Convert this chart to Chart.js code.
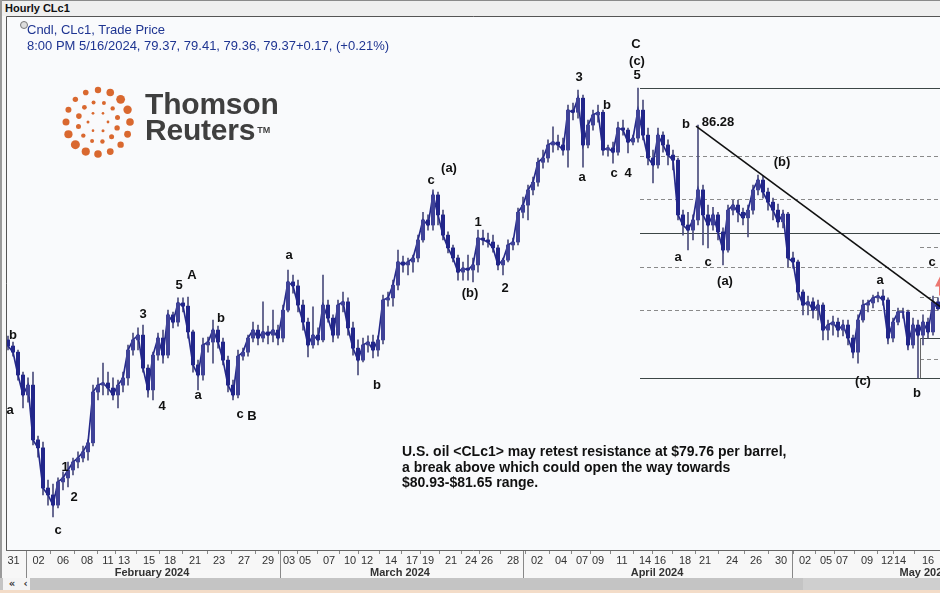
<!DOCTYPE html>
<html>
<head>
<meta charset="utf-8">
<title>Hourly CLc1</title>
<script src="https://cdn.jsdelivr.net/npm/chart.js@4.4.1/dist/chart.umd.min.js"></script>
<style>
  body { margin: 0; background: #f7f7f7; }
  #wrap { position: relative; width: 940px; height: 593px; overflow: hidden; background: #f7f7f7; }
  #chart { position: absolute; left: 0; top: 0; }
  #header { position: absolute; left: 0; top: 0; width: 940px; height: 16px; background: #efefef;
            border-top: 1px solid #8a8a8a; box-sizing: border-box; font: bold 11px "Liberation Sans", Arial, sans-serif;
            line-height: 15px; padding-left: 5px; color: #111; }
  #edge { position: absolute; left: 0; top: 0; width: 2px; height: 593px; background: #9a9a9a; }
  #legend { position: absolute; left: 27px; top: 22px; font: 13px "Liberation Sans", Arial, sans-serif;
            line-height: 16px; color: #1f3592; }
  #legend .ico { position: absolute; left: -7px; top: -1px; width: 6px; height: 6px; border: 1px solid #777;
                 border-radius: 50%; background: #ddd; }
  #logo { position: absolute; left: 145px; top: 91px; font: bold 30px "Liberation Sans", Arial, sans-serif;
          line-height: 26px; color: #3f3f3f; letter-spacing: -0.2px; }
  #logo sup { font-size: 9px; letter-spacing: 0; vertical-align: 7px; margin-left: 2px; }
  #note { position: absolute; left: 402px; top: 444px; font: bold 14px "Liberation Sans", Arial, sans-serif;
          line-height: 15.5px; color: #111; }
  #scroll { position: absolute; left: 0; top: 578px; width: 940px; height: 12px; background: #c4c4c4; }
  #scroll .btn { position: absolute; top: 0; height: 12px; background: #f4f4f4; font: bold 10px "DejaVu Sans", sans-serif;
                 line-height: 12px; text-align: center; color: #333; }
  #scroll .light { position: absolute; left: 803px; top: 0; width: 137px; height: 12px; background: #cfcfcf; }
  #peach { position: absolute; left: 0; top: 590px; width: 940px; height: 3px; background: #f3dcc8; }
</style>
</head>
<body>
<div id="wrap">
  <canvas id="chart" width="940" height="593"></canvas>
  <div id="header">Hourly CLc1</div>
  <div id="edge"></div>
  <div id="legend"><span class="ico"></span>Cndl, CLc1, Trade Price<br>8:00 PM 5/16/2024, 79.37, 79.41, 79.36, 79.37+0.17, (+0.21%)</div>
  <div id="logo">Thomson<br>Reuters<sup>TM</sup></div>
  <div id="note">U.S. oil &lt;CLc1&gt; may retest resistance at $79.76 per barrel,<br>a break above which could open the way towards<br>$80.93-$81.65 range.</div>
  <div id="scroll"><div class="light"></div><div class="btn" style="left:3px;width:18px">&laquo;</div><div class="btn" style="left:21px;width:9px">&lsaquo;</div></div>
  <div id="peach"></div>
</div>
<script>
// candles [open, high, low, close], one per few trading hours
const janFebCandles = [
  [78.20,78.34,77.82,77.97],[77.97,78.12,77.59,77.74],[77.74,77.82,76.69,76.88],[76.88,76.99,75.64,76.13],
  [76.13,76.77,75.86,76.50],[76.50,76.99,74.25,74.44],[74.44,74.58,73.79,74.14],[74.14,74.36,72.37,72.63],
  [72.63,72.93,71.99,72.37],[72.37,72.78,71.54,71.99],[71.99,73.01,71.88,72.86],[72.86,73.24,72.56,73.01],
  [73.01,73.61,72.67,73.31],[73.31,73.76,73.12,73.61],[73.61,73.99,73.39,73.76],[73.76,74.21,73.61,73.99],
  [73.99,74.44,73.68,74.33],[74.33,76.50,74.21,76.24],[76.24,76.77,75.94,76.50],[76.50,77.33,76.13,76.58],
  [76.58,76.99,76.13,76.39],[76.39,76.77,75.94,76.13],[76.13,76.69,75.64,76.50],[76.50,76.99,76.24,76.77],
  [76.77,78.01,76.50,77.82],[77.82,78.46,77.63,78.20],[78.20,78.65,77.82,78.38],[78.38,78.76,76.99,77.14],
  [77.14,77.26,76.05,76.32],[76.32,77.74,75.94,77.63],[77.63,78.46,77.44,78.27],[78.27,78.57,77.33,77.63],
  [77.63,79.32,77.52,79.14],[79.14,79.25,78.65,78.87],[78.87,79.78,78.72,79.59],[79.59,79.78,79.25,79.47],
  [79.47,79.81,78.27,78.50],[78.50,78.57,76.99,77.26],[77.26,77.44,76.32,76.88],[76.88,78.27,76.69,78.01],
  [78.01,78.31,77.74,78.12],[78.12,78.95,77.33,78.57],[78.57,78.72,77.89,78.12],[78.12,78.27,77.26,77.44],
  [77.44,77.59,76.24,76.50],[76.50,76.69,75.94,76.13],[76.13,77.82,76.02,77.59],[77.59,77.89,77.44,77.74],
  [77.74,78.38,77.59,78.27],[78.27,78.87,78.12,78.57],[78.57,78.76,78.01,78.27],[78.27,79.63,78.12,78.50],
  [78.50,78.72,78.05,78.38],[78.38,79.32,78.12,78.57],[78.57,78.76,78.01,78.27]
];
const marCandles = [
  [78.27,79.51,78.12,79.32],[79.32,80.83,79.25,80.38],[80.38,80.64,79.96,80.23],[80.23,80.45,79.25,79.51],
  [79.51,79.70,78.57,78.87],[78.87,79.02,77.56,78.01],[78.01,79.44,77.89,78.38],[78.38,78.65,78.01,78.20],
  [78.20,80.64,78.12,79.51],[79.51,79.70,78.87,79.02],[79.02,79.14,78.12,78.38],[78.38,79.70,78.27,79.51],
  [79.51,80.00,79.25,79.63],[79.63,79.78,78.38,78.65],[78.65,78.87,77.63,77.89],[77.89,78.20,76.88,77.44],
  [77.44,78.27,77.37,78.01],[78.01,78.35,77.74,78.12],[78.12,78.38,77.52,77.82],[77.82,78.35,77.59,78.20],
  [78.20,79.89,78.05,79.70],[79.70,80.00,79.47,79.78],[79.78,80.45,79.47,80.26],[80.26,81.58,80.08,81.13],
  [81.13,81.35,80.75,81.02],[81.02,81.28,80.64,81.13],[81.13,81.39,80.75,81.28],[81.28,82.14,81.13,81.96],
  [81.96,83.00,81.88,82.71],[82.71,82.90,82.33,82.52],[82.52,83.84,82.33,83.65],[83.65,83.76,82.52,82.90],
  [82.90,83.08,81.96,82.14],[82.14,82.26,81.47,81.66],[81.66,81.77,81.13,81.28],[81.28,81.39,80.45,80.75],
  [80.75,81.13,80.45,80.90],[80.90,81.39,80.45,80.83],[80.83,81.28,80.38,81.02],[81.02,82.33,80.75,82.03],
  [82.03,82.33,81.77,81.96],[81.96,82.22,81.69,81.88],[81.88,82.14,81.50,81.66],[81.66,81.77,80.83,81.02],
  [81.02,81.28,80.64,81.20],[81.20,81.96,81.13,81.77],[81.77,82.03,81.58,81.88],[81.88,83.16,81.77,83.00]
];
const aprCandles = [
  [83.00,83.57,82.79,83.27],[83.27,84.02,82.71,83.84],[83.84,84.32,83.65,84.13],[84.13,85.04,83.98,84.88],
  [84.88,85.34,84.66,85.04],[85.04,85.72,84.88,85.53],[85.53,86.21,85.26,85.64],[85.64,85.90,85.34,85.53],
  [85.53,85.79,85.15,85.34],[85.34,87.03,84.70,86.84],[86.84,87.11,86.47,86.76],[86.76,87.59,86.54,87.29],
  [87.29,87.41,84.70,85.53],[85.53,86.47,85.42,86.28],[86.28,86.84,86.09,86.66],[86.66,87.03,86.39,86.76],
  [86.76,86.84,85.15,85.34],[85.34,85.53,85.11,85.42],[85.42,85.64,84.85,85.26],[85.26,86.39,85.15,86.17],
  [86.17,86.47,85.90,86.09],[86.09,86.17,85.23,85.64],[85.64,85.90,85.53,85.79],[85.79,87.67,85.64,86.84],
  [86.84,87.22,85.72,85.90],[85.90,86.17,84.78,85.04],[85.04,85.34,84.10,84.78],[84.78,86.17,84.66,85.90],
  [85.90,86.02,85.26,85.53],[85.53,85.72,84.78,85.15],[85.15,85.34,84.59,84.96],[84.96,85.04,82.71,82.90],
  [82.90,83.08,82.14,82.52],[82.52,83.00,81.58,82.33],[82.33,82.90,81.96,82.71],[82.71,86.28,82.52,83.84],
  [83.84,84.02,81.77,82.90],[82.90,83.27,81.66,82.52],[82.52,83.19,82.33,82.90],[82.90,83.00,81.96,82.26],
  [82.26,82.41,81.02,81.58],[81.58,83.27,81.50,83.08],[83.08,83.46,82.90,83.27],[83.27,83.46,82.64,83.00],
  [83.00,83.16,82.52,82.79],[82.79,83.27,82.07,83.08],[83.08,84.02,82.93,83.84],[83.84,84.40,83.65,84.21],
  [84.21,84.36,83.53,83.76],[83.76,83.91,83.08,83.38],[83.38,83.53,82.71,83.08],[83.08,83.31,82.44,82.64],
  [82.64,83.08,82.41,82.93],[82.93,83.00,80.94,81.28]
];
const mayCandles = [
  [81.28,81.50,80.90,81.13],[81.13,81.20,79.70,80.00],[80.00,80.08,79.14,79.51],[79.51,79.85,79.14,79.63],
  [79.63,79.78,79.02,79.32],[79.32,79.70,78.95,79.51],[79.51,79.59,78.20,78.57],[78.57,78.95,78.20,78.76],
  [78.76,79.10,78.38,78.87],[78.87,79.02,78.31,78.57],[78.57,78.95,78.35,78.76],[78.76,78.95,78.01,78.27],
  [78.27,78.38,77.52,77.74],[77.74,79.14,77.33,78.95],[78.95,79.70,78.87,79.51],[79.51,79.70,79.25,79.59],
  [79.59,79.89,79.40,79.78],[79.78,80.00,79.63,79.85],[79.85,80.08,79.51,79.70],[79.70,79.78,78.05,78.27],
  [78.27,79.02,78.12,78.87],[78.87,79.40,78.76,79.25],[79.25,79.40,79.02,79.25],[79.25,79.32,77.82,78.01],
  [78.01,79.02,77.89,78.76],[78.76,78.95,76.77,78.38],[78.38,79.14,78.01,78.87],[78.87,79.02,78.27,78.50],
  [78.50,79.85,78.38,79.63],[79.63,79.78,79.32,79.37]
];

// x axis: tick labels and the candle index they sit at
const dayTickLabels = ['31','02','06','08','11','13','15','18','21','23','27','29','03','05','07','10','12','14','17','19',
  '21','24','26','28','02','04','07','09','11','14','16','18','21','24','26','30','02','05','07','09','12','14','16'];
const dayTickPos = [1.1,6.1,11.0,15.8,20.0,23.2,28.2,32.4,37.4,42.2,47.2,52.0,56.2,59.4,64.2,68.4,71.8,76.6,80.8,84.0,
  88.6,92.6,95.8,101.0,105.8,110.6,114.8,118.0,122.8,127.4,130.4,135.4,139.4,144.8,149.6,154.6,159.4,163.6,166.8,171.8,
  175.8,178.4,184.0];
const monthLabels = ['February 2024', 'March 2024', 'April 2024', 'May 2024'];
const monthLabelPos = [28.8, 78.4, 129.8, 183.2];
const monthStartPos = [3.6, 54.4, 103.0, 156.8];

// retracement levels
const fibStart = 126.4;
const fibLevels = [87.67, 85.10, 83.51, 82.22, 80.93, 79.34, 76.77];
const fibDashed = [false, true, true, false, true, true, false];
const smallFibStart = 182.4;
const smallFibLevels = [81.70, 79.80, 78.27, 77.48];
const smallFibDashed = [true, true, false, true];
const trendLine = [[137.6, 86.24], [187.5, 79.30]];
const arrowAt = [186.6, 80.25];

// wave counts [candle index, price, text]
const waveLabels = [
  [1.0,78.35,'b'],[0.4,75.56,'a'],[10.0,71.02,'c'],[11.4,73.42,'1'],[13.2,72.26,'2'],[27.0,79.14,'3'],
  [30.8,75.71,'4'],[34.2,80.26,'5'],[36.8,80.64,'A'],[38.0,76.13,'a'],[42.6,79.02,'b'],[46.4,75.41,'c'],
  [48.8,75.34,'B'],[56.2,81.39,'a'],[73.8,76.47,'b'],[84.6,84.21,'c'],[88.2,84.63,'(a)'],[92.4,79.96,'(b)'],
  [94.0,82.60,'1'],[99.4,80.15,'2'],[114.2,88.08,'3'],[114.8,84.32,'a'],[119.8,87.03,'b'],[121.2,84.47,'c'],
  [124.0,84.47,'4'],[125.8,88.16,'5'],[125.8,88.69,'(c)'],[125.6,89.32,'C'],[135.6,86.32,'b'],[142.0,86.39,'86.28'],
  [134.0,81.32,'a'],[140.0,81.13,'c'],[143.4,80.41,'(a)'],[154.8,84.89,'(b)'],[171.0,76.65,'(c)'],[174.4,80.45,'a'],
  [181.8,76.20,'b'],[184.8,81.13,'c']
];

const candles = janFebCandles.concat(marCandles, aprCandles, mayCandles);
const wickData = candles.map((c, i) => ({ x: i, y: [c[2], c[1]] }));
const bodyData = candles.map((c, i) => ({ x: i, y: [c[0], c[3]] }));
const closeData = candles.map((c, i) => ({ x: i, y: c[3] }));

const xMin = -0.4, xMax = 186.4;
const axisFont = { family: '"Liberation Sans", Arial, sans-serif', size: 11 };

function hline(ctx, x0, x1, y, dashed, color) {
  ctx.beginPath();
  ctx.setLineDash(dashed ? [4, 3] : []);
  ctx.strokeStyle = color;
  ctx.moveTo(x0, Math.round(y) + 0.5);
  ctx.lineTo(x1, Math.round(y) + 0.5);
  ctx.stroke();
}

const decor = {
  id: 'decor',
  beforeDraw(chart) {
    const { ctx, chartArea: a } = chart;
    ctx.save();
    ctx.fillStyle = '#f7f7f7';
    ctx.fillRect(0, 0, chart.width, chart.height);
    ctx.fillStyle = '#f9fafc';
    ctx.fillRect(a.left, a.top, a.right - a.left, a.bottom - a.top);
    ctx.restore();
  },
  beforeDatasetsDraw(chart) {
    const { ctx, chartArea: a, scales: { x, y } } = chart;
    ctx.save();
    ctx.lineWidth = 1;
    const x0 = x.getPixelForValue(fibStart);
    fibLevels.forEach((v, i) => hline(ctx, x0, a.right, y.getPixelForValue(v), fibDashed[i], fibDashed[i] ? '#8a8a8a' : '#3c4646'));
    const x1 = x.getPixelForValue(smallFibStart);
    smallFibLevels.forEach((v, i) => hline(ctx, x1, a.right, y.getPixelForValue(v), smallFibDashed[i], smallFibDashed[i] ? '#8a8a8a' : '#3c4646'));
    ctx.setLineDash([]);
    ctx.beginPath();
    ctx.strokeStyle = '#666';
    ctx.moveTo(Math.round(x1) + 0.5, y.getPixelForValue(smallFibLevels[2]));
    ctx.lineTo(Math.round(x1) + 0.5, y.getPixelForValue(fibLevels[6]));
    ctx.stroke();
    ctx.restore();
  },
  afterDatasetsDraw(chart) {
    const { ctx, chartArea: a, scales: { x, y } } = chart;
    ctx.save();
    ctx.beginPath();
    ctx.rect(a.left, a.top, a.right - a.left, a.bottom - a.top);
    ctx.clip();
    // trend line
    ctx.beginPath();
    ctx.lineWidth = 1.6;
    ctx.strokeStyle = '#111';
    ctx.moveTo(x.getPixelForValue(trendLine[0][0]), y.getPixelForValue(trendLine[0][1]));
    ctx.lineTo(x.getPixelForValue(trendLine[1][0]), y.getPixelForValue(trendLine[1][1]));
    ctx.stroke();
    // clipped red arrow at the right edge
    const ax = x.getPixelForValue(arrowAt[0]), ay = y.getPixelForValue(arrowAt[1]);
    ctx.fillStyle = 'rgba(232,86,78,0.8)';
    ctx.beginPath();
    ctx.moveTo(ax, ay - 11);
    ctx.lineTo(ax - 6, ay + 1);
    ctx.lineTo(ax - 2, ay + 1);
    ctx.lineTo(ax - 2, ay + 10);
    ctx.lineTo(ax + 4, ay + 10);
    ctx.closePath();
    ctx.fill();
    // wave labels
    ctx.fillStyle = '#111';
    ctx.font = 'bold 13px "Liberation Sans", Arial, sans-serif';
    ctx.textAlign = 'center';
    ctx.textBaseline = 'middle';
    waveLabels.forEach(([k, p, t]) => ctx.fillText(t, x.getPixelForValue(k), y.getPixelForValue(p)));
    ctx.restore();

    // frame and month separators
    ctx.save();
    ctx.strokeStyle = '#555';
    ctx.lineWidth = 1;
    ctx.beginPath();
    ctx.moveTo(a.left + 0.5, a.bottom);
    ctx.lineTo(a.left + 0.5, a.top + 0.5);
    ctx.lineTo(a.right, a.top + 0.5);
    ctx.stroke();
    ctx.strokeStyle = '#888';
    monthStartPos.forEach(v => {
      const px = Math.round(x.getPixelForValue(v)) + 0.5;
      ctx.beginPath();
      ctx.moveTo(px, a.bottom + 1);
      ctx.lineTo(px, a.bottom + 29);
      ctx.stroke();
    });
    ctx.restore();

    // logo mark
    ctx.save();
    ctx.fillStyle = '#d9682f';
    const cx = 98, cy = 122;
    const outer = [3.2, 3.8, 4.4, 4.2, 3.8, 3.4, 3.2, 3.4, 3.8, 4.1, 4.5, 4.1, 3.5, 3.0, 2.7, 2.8];
    outer.forEach((r, i) => {
      const t = -Math.PI / 2 + i * Math.PI * 2 / outer.length;
      ctx.beginPath(); ctx.arc(cx + 32 * Math.cos(t), cy + 32 * Math.sin(t), r, 0, Math.PI * 2); ctx.fill();
    });
    const mid = [2.0, 2.2, 2.5, 2.7, 2.5, 2.2, 2.0, 2.2, 2.5, 2.8, 2.4, 2.0];
    mid.forEach((r, i) => {
      const t = -Math.PI / 2 + 0.3 + i * Math.PI * 2 / mid.length;
      ctx.beginPath(); ctx.arc(cx + 20 * Math.cos(t), cy + 20 * Math.sin(t), r, 0, Math.PI * 2); ctx.fill();
    });
    const inner = [1.4, 1.5, 1.3, 1.5, 1.4, 1.3];
    inner.forEach((r, i) => {
      const t = i * Math.PI * 2 / inner.length;
      ctx.beginPath(); ctx.arc(cx + 10 * Math.cos(t), cy + 10 * Math.sin(t), r, 0, Math.PI * 2); ctx.fill();
    });
    ctx.restore();
  }
};

new Chart(document.getElementById('chart'), {
  type: 'bar',
  data: {
    datasets: [
      {
        label: 'body',
        data: bodyData,
        barThickness: 3.4,
        grouped: false,
        borderWidth: 0,
        borderSkipped: false,
        backgroundColor: ctx => {
          const c = candles[ctx.dataIndex];
          return c && c[3] >= c[0] ? '#3f4298' : '#22268a';
        }
      },
      {
        type: 'line',
        label: 'close',
        data: closeData,
        borderColor: '#262a8a',
        borderWidth: 1.7,
        pointRadius: 0,
        tension: 0
      },
      {
        label: 'wick',
        data: wickData,
        barThickness: 1,
        grouped: false,
        borderWidth: 0,
        borderSkipped: false,
        backgroundColor: '#4c4e7c'
      }
    ]
  },
  options: {
    responsive: false,
    animation: false,
    layout: { padding: { left: 6, top: 16, right: 0, bottom: 14 } },
    plugins: { legend: { display: false }, tooltip: { enabled: false } },
    scales: {
      y: { display: false, min: 70.3, max: 90.38 },
      x: {
        type: 'linear', min: xMin, max: xMax, position: 'bottom', weight: 0, offset: false,
        afterBuildTicks: s => { s.ticks = dayTickPos.map(v => ({ value: v })); },
        afterFit: s => { s.height = 15; s.paddingLeft = 0; s.paddingRight = 0; },
        ticks: { autoSkip: false, maxRotation: 0, padding: 0, font: axisFont, color: '#333',
                 callback: (v, i) => dayTickLabels[i] },
        grid: { drawOnChartArea: false, tickLength: 4, color: '#888' },
        border: { display: true, color: '#666' }
      },
      x2: {
        type: 'linear', min: xMin, max: xMax, position: 'bottom', weight: 1, offset: false,
        afterBuildTicks: s => { s.ticks = monthLabelPos.map(v => ({ value: v })); },
        afterFit: s => { s.height = 14; s.paddingLeft = 0; s.paddingRight = 0; },
        ticks: { autoSkip: false, maxRotation: 0, padding: 1, font: { ...axisFont, weight: 'bold' }, color: '#333',
                 callback: (v, i) => monthLabels[i] },
        grid: { display: false, drawTicks: false },
        border: { display: false }
      }
    }
  },
  plugins: [decor]
});
</script>
</body>
</html>
